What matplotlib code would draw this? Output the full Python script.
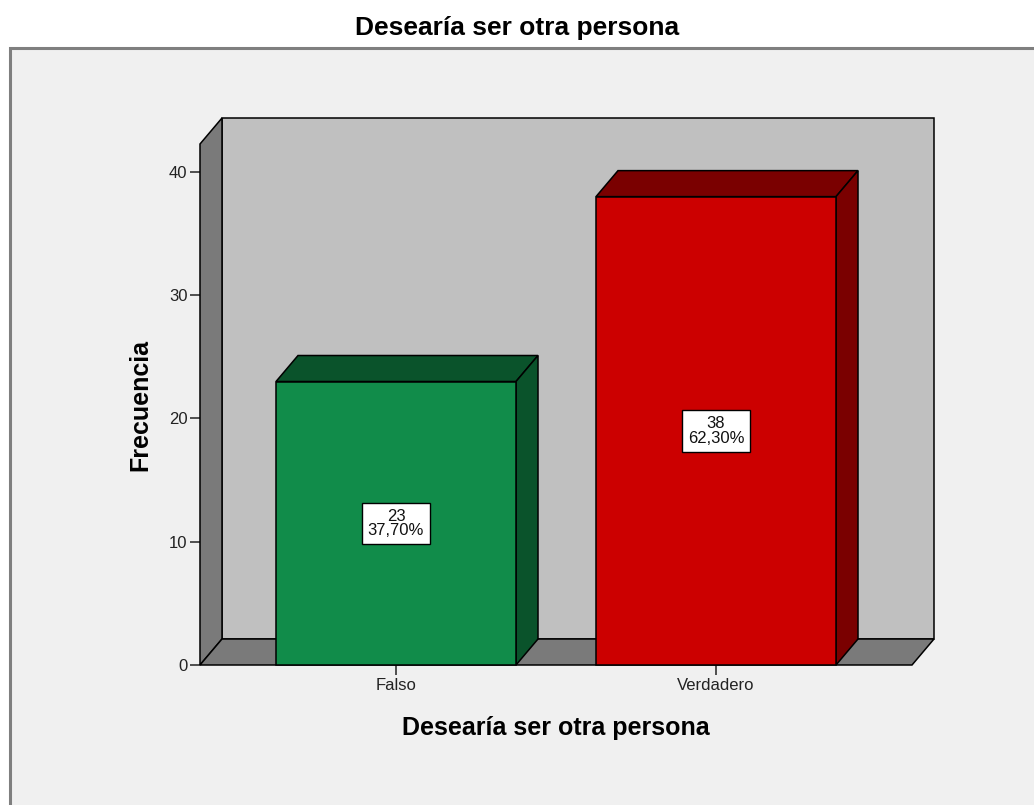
import matplotlib
matplotlib.use("Agg")
import matplotlib.pyplot as plt
from matplotlib.patches import Polygon, Rectangle

categorias = ["Falso", "Verdadero"]
frecuencias = [23, 38]
porcentajes = ["37,70%", "62,30%"]
colores_frente = ["#118C4A", "#CC0000"]
colores_lado = ["#0A532B", "#7A0000"]
yticks = [0, 10, 20, 30, 40]

plt.rcParams['font.family'] = ['Liberation Sans', 'DejaVu Sans']

fig = plt.figure(figsize=(10.34, 8.05), dpi=100)
fig.patch.set_facecolor("white")

# marco gris de fondo
fig.patches.append(Rectangle((9.5/1034, -0.01), 1.1, 757/805 + 0.01,
                             transform=fig.transFigure, facecolor="#F0F0F0",
                             edgecolor="#7F7F7F", lw=2.2, zorder=-10))

ax = fig.add_axes([200/1034, 140/805, 712/1034, 521/805])
ax.set_facecolor("none")
for s in ax.spines.values():
    s.set_visible(False)

xmin, xmax = -0.6125, 1.6125
ymax = 42.27
ax.set_xlim(xmin, xmax)
ax.set_ylim(0, ymax)

# profundidad 3D en unidades de datos
dx = 22 / 320
dy = 26 / 12.325
ancho = 0.75

def poly(pts, fc, z):
    ax.add_patch(Polygon(pts, closed=True, facecolor=fc, edgecolor="black",
                         lw=1.1, clip_on=False, zorder=z, joinstyle="miter"))

# paredes
poly([(xmin+dx, dy), (xmax+dx, dy), (xmax+dx, ymax+dy), (xmin+dx, ymax+dy)], "#C0C0C0", 1)
poly([(xmin, 0), (xmin+dx, dy), (xmin+dx, ymax+dy), (xmin, ymax)], "#7A7A7A", 2)
poly([(xmin, 0), (xmax, 0), (xmax+dx, dy), (xmin+dx, dy)], "#7A7A7A", 2)

for i, (v, cf, cl, p) in enumerate(zip(frecuencias, colores_frente, colores_lado, porcentajes)):
    x0, x1 = i - ancho/2, i + ancho/2
    poly([(x0, v), (x1, v), (x1+dx, v+dy), (x0+dx, v+dy)], cl, 3)
    poly([(x1, 0), (x1+dx, dy), (x1+dx, v+dy), (x1, v)], cl, 3)
    poly([(x0, 0), (x1, 0), (x1, v), (x0, v)], cf, 4)
    ax.text(i, v/2, f"{v}\n{p}", ha="center", va="center", fontsize=12,
            linespacing=0.95, color="#111111", zorder=6,
            bbox=dict(boxstyle="square,pad=0.36", facecolor="white",
                      edgecolor="black", lw=1))

ax.set_xticks(range(len(categorias)))
ax.set_xticklabels(categorias)
ax.set_yticks(yticks)
ax.tick_params(axis="both", direction="out", length=7, width=1.2,
               color="#333333", labelsize=12, labelcolor="#222222", pad=2)

fig.text(0.5, 1 - 28/805, "Desearía ser otra persona", ha="center", va="center",
         fontsize=19, fontweight="bold")
fig.text(556/1034, (805-728)/805, "Desearía ser otra persona", ha="center",
         va="center", fontsize=18, fontweight="bold")
fig.text(140/1034, (805-405)/805, "Frecuencia", ha="center", va="center",
         rotation=90, fontsize=18, fontweight="bold")

fig.savefig("out.png", dpi=100)
